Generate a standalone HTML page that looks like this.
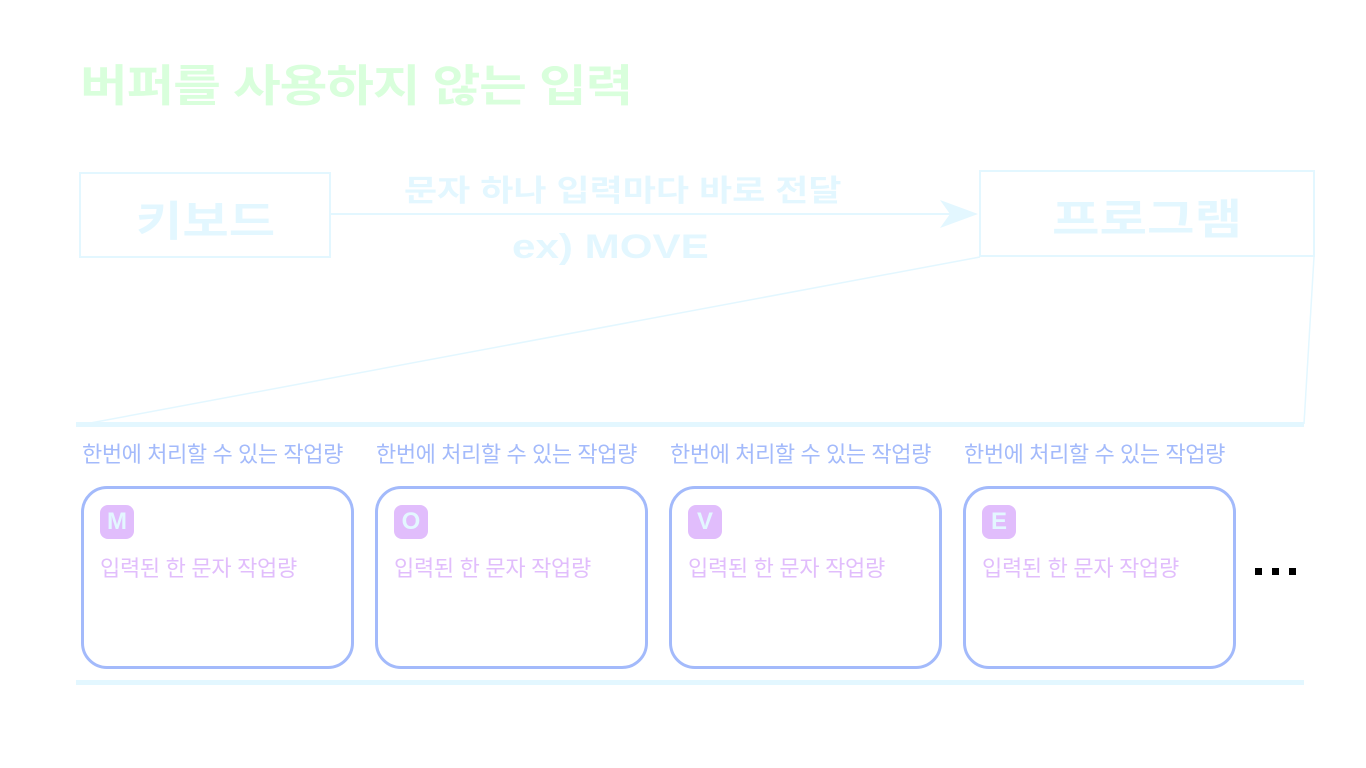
<!DOCTYPE html>
<html><head><meta charset="utf-8"><style>
body{margin:0;width:1366px;height:768px;background:#fff;position:relative;overflow:hidden;font-family:"Liberation Sans","Noto Sans CJK KR",sans-serif;font-weight:bold}
.a{position:absolute;white-space:nowrap;transform-origin:0 0}
.box{position:absolute;border:3px solid #a3bafb;border-radius:26px;width:267px;height:177px;top:486px;background:#fff}
.lbl{position:absolute;top:437px;font-size:22px;color:#a3bafb;font-weight:normal;letter-spacing:-0.4px}
.badge{position:absolute;left:16px;top:16px;width:34px;height:34px;border-radius:8px;background:#e1bdfc;color:#e3f7ff;font-size:24px;text-align:center;line-height:34px}
.sub{position:absolute;left:16px;top:62px;font-size:22px;color:#e1bdfc;font-weight:normal;letter-spacing:-0.3px}
</style></head><body>
<div class="a" style="left:80px;top:50px;font-size:44px;color:#d9ffdc;letter-spacing:-1px;transform:scaleX(1.18)">버퍼를 사용하지 않는 입력</div>
<svg class="a" style="left:0;top:0" width="1366" height="768">
<rect x="80" y="173" width="250" height="84" fill="none" stroke="#e3f7ff" stroke-width="2"/>
<rect x="980" y="171" width="334" height="85" fill="none" stroke="#e3f7ff" stroke-width="2"/>
<line x1="330" y1="214" x2="960" y2="214" stroke="#e3f7ff" stroke-width="2"/>
<polygon points="978,214 940,200 950,214 940,228" fill="#e3f7ff"/>
<line x1="980" y1="257" x2="85" y2="424" stroke="#e3f7ff" stroke-width="1.5"/>
<line x1="1314" y1="257" x2="1304" y2="424" stroke="#e3f7ff" stroke-width="1.5"/>
<rect x="76" y="422" width="1228" height="5" fill="#e3f7ff"/>
<rect x="76" y="680" width="1228" height="5" fill="#e3f7ff"/>
<rect x="1255" y="568" width="7" height="7" fill="#000"/>
<rect x="1272" y="568" width="7" height="7" fill="#000"/>
<rect x="1289" y="568" width="7" height="7" fill="#000"/>
</svg>
<div class="a" style="left:136px;top:188px;font-size:42px;color:#e3f7ff;transform:scaleX(1.2)">키보드</div>
<div class="a" style="left:1052px;top:186px;font-size:42px;color:#e3f7ff;transform:scaleX(1.23)">프로그램</div>
<div class="a" style="left:404px;top:166px;font-size:30px;color:#e3f7ff;transform:scaleX(1.2)">문자 하나 입력마다 바로 전달</div>
<div class="a" style="left:512px;top:228px;font-size:34px;color:#e3f7ff;transform:scaleX(1.24)">ex) MOVE</div>
<div class="lbl" style="left:82px">한번에 처리할 수 있는 작업량</div>
<div class="lbl" style="left:376px">한번에 처리할 수 있는 작업량</div>
<div class="lbl" style="left:670px">한번에 처리할 수 있는 작업량</div>
<div class="lbl" style="left:964px">한번에 처리할 수 있는 작업량</div>
<div class="box" style="left:81px"><div class="badge">M</div><div class="sub">입력된 한 문자 작업량</div></div>
<div class="box" style="left:375px"><div class="badge">O</div><div class="sub">입력된 한 문자 작업량</div></div>
<div class="box" style="left:669px"><div class="badge">V</div><div class="sub">입력된 한 문자 작업량</div></div>
<div class="box" style="left:963px"><div class="badge">E</div><div class="sub">입력된 한 문자 작업량</div></div>
</body></html>
